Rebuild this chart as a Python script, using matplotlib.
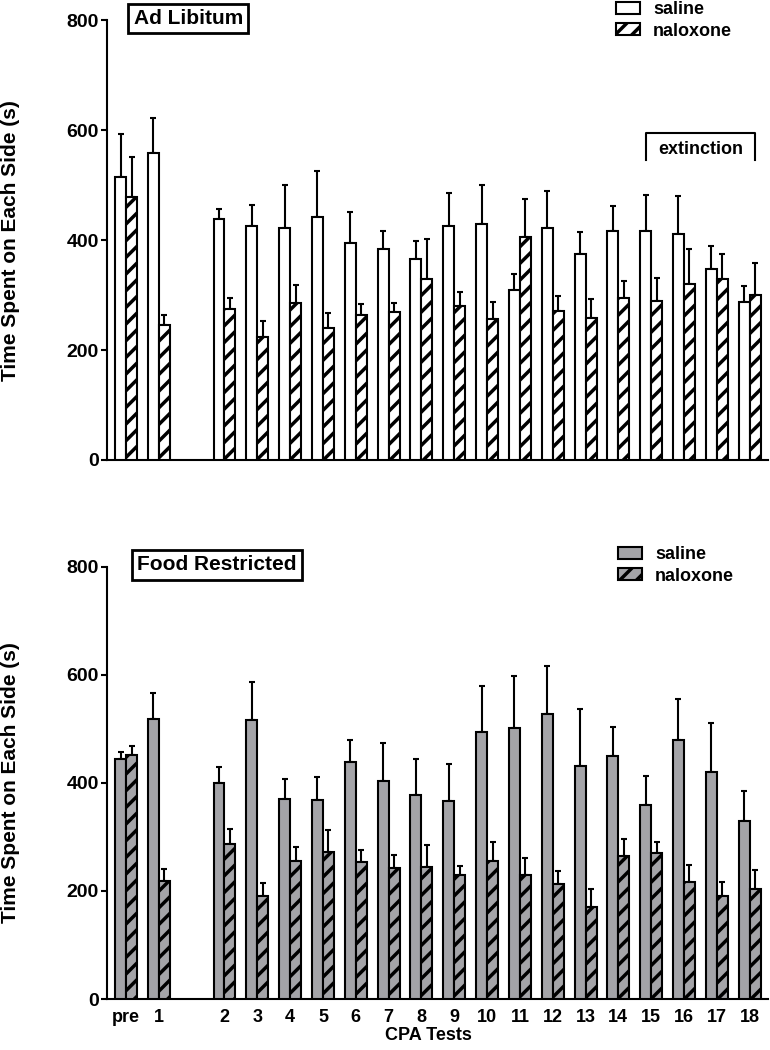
import matplotlib
matplotlib.use("Agg")
import matplotlib.pyplot as plt
from matplotlib.patches import Patch
import numpy as np

plt.rcParams['font.family'] = ['Liberation Sans', 'DejaVu Sans']
plt.rcParams['font.weight'] = 'bold'
plt.rcParams['hatch.linewidth'] = 2.5
plt.rcParams['hatch.color'] = 'black'

# Test labels and slot positions (gap between "1" and "2")
tests = ["pre", "1", "2", "3", "4", "5", "6", "7", "8", "9", "10",
         "11", "12", "13", "14", "15", "16", "17", "18"]
slots = [0, 1, 3, 4, 5, 6, 7, 8, 9, 10, 11, 12, 13, 14, 15, 16, 17, 18, 19]

# Ad libitum group (mean, upper SEM)
adlib_saline = [514, 559, 439, 426, 422, 443, 394, 383, 365, 426, 429,
                310, 423, 375, 416, 416, 411, 347, 287]
adlib_saline_err = [79, 64, 18, 38, 79, 83, 58, 34, 34, 60, 72,
                    28, 67, 39, 47, 66, 69, 43, 30]
adlib_nalox = [479, 245, 275, 223, 286, 241, 263, 269, 329, 281, 256,
               406, 271, 259, 295, 290, 321, 329, 301]
adlib_nalox_err = [73, 19, 20, 29, 33, 27, 21, 16, 73, 24, 31,
                   69, 28, 34, 31, 41, 62, 46, 57]

# Food restricted group
fr_saline = [444, 519, 400, 516, 371, 368, 438, 404, 378, 366, 494,
             502, 528, 432, 449, 359, 479, 421, 329]
fr_saline_err = [14, 48, 30, 70, 37, 43, 41, 70, 67, 69, 86,
                 96, 89, 105, 54, 53, 76, 89, 55]
fr_nalox = [451, 218, 287, 191, 255, 272, 254, 242, 244, 229, 256,
            230, 213, 170, 265, 270, 217, 190, 203]
fr_nalox_err = [18, 22, 28, 24, 26, 41, 22, 24, 41, 18, 35,
                31, 24, 33, 31, 21, 31, 27, 36]

yticks = [0, 200, 400, 600, 800]

W, H = 770, 1050
fig = plt.figure(figsize=(W / 100, H / 100), dpi=100)
ax1 = fig.add_axes([107 / W, 1 - 460 / H, 661 / W, 439.7 / H])
ax2 = fig.add_axes([107 / W, 1 - 999 / H, 661 / W, 432.3 / H])

x = np.array(slots, dtype=float)
bw = 0.335
gray = '#a4a4a8'


def draw_panel(ax, sal, sal_err, nal, nal_err, fill, title, title_x):
    ax.bar(x - bw / 2, sal, bw, color=fill, edgecolor='black', linewidth=1.5, zorder=3)
    ax.bar(x + bw / 2, nal, bw, color=fill, edgecolor='black', linewidth=1.5,
           hatch='//', zorder=3)
    ax.errorbar(x - bw / 2, sal, yerr=[np.zeros(len(sal)), sal_err], fmt='none',
                ecolor='black', elinewidth=1.5, capsize=2, capthick=1.5, zorder=2)
    ax.errorbar(x + bw / 2, nal, yerr=[np.zeros(len(nal)), nal_err], fmt='none',
                ecolor='black', elinewidth=1.5, capsize=2, capthick=1.5, zorder=2)
    ax.set_xlim(-0.58, 19.56)
    ax.set_ylim(0, 800)
    ax.set_yticks(yticks)
    for s in ['top', 'right']:
        ax.spines[s].set_visible(False)
    for s in ['left', 'bottom']:
        ax.spines[s].set_linewidth(1.5)
    ax.tick_params(axis='y', direction='out', length=4, width=1.5, labelsize=14, pad=2)
    ax.set_ylabel("Time Spent on Each Side (s)", fontsize=15, fontweight='bold')
    ax.yaxis.set_label_coords(-0.131, 0.5)
    ax.text(title_x, 1.004, title, transform=ax.transAxes, ha='center', va='center',
            fontsize=15, fontweight='bold', clip_on=False,
            bbox=dict(boxstyle='square,pad=0.25', facecolor='white', edgecolor='black',
                      linewidth=2))
    handles = [Patch(facecolor=fill, edgecolor='black', linewidth=1.5, label='saline'),
               Patch(facecolor=fill, edgecolor='black', linewidth=1.5, hatch='//',
                     label='naloxone')]
    return handles


h1 = draw_panel(ax1, adlib_saline, adlib_saline_err, adlib_nalox, adlib_nalox_err,
                'white', "Ad Libitum", 0.123)
ax1.tick_params(axis='x', length=0, labelbottom=False)
fig.legend(handles=h1, loc='upper left', bbox_to_anchor=(616 / W, 1 - 1 / H),
           frameon=False, fontsize=13, handlelength=1.35, handleheight=0.65,
           labelspacing=0.25, handletextpad=0.7, borderpad=0, borderaxespad=0)

# extinction bracket over tests 15-18
ex_l = slots[15] - bw / 2
ex_r = slots[18] + bw / 2
ax1.plot([ex_l, ex_l, ex_r, ex_r], [546, 595, 595, 546], color='black', lw=1.5,
         clip_on=False)
ax1.text((ex_l + ex_r) / 2, 565, "extinction", ha='center', va='center',
         fontsize=13, fontweight='bold')

h2 = draw_panel(ax2, fr_saline, fr_saline_err, fr_nalox, fr_nalox_err,
                gray, "Food Restricted", 0.166)
ax2.set_xticks(x)
ax2.set_xticklabels(tests)
ax2.tick_params(axis='x', length=0, labelsize=13, pad=7)
fig.legend(handles=h2, loc='upper left', bbox_to_anchor=(618 / W, 1 - 546 / H),
           frameon=False, fontsize=13, handlelength=1.35, handleheight=0.65,
           labelspacing=0.25, handletextpad=0.7, borderpad=0, borderaxespad=0)

fig.text(428 / W, 1 - 1036 / H, "CPA Tests", ha='center', va='center',
         fontsize=13, fontweight='bold')

fig.savefig("out.png", dpi=100)
